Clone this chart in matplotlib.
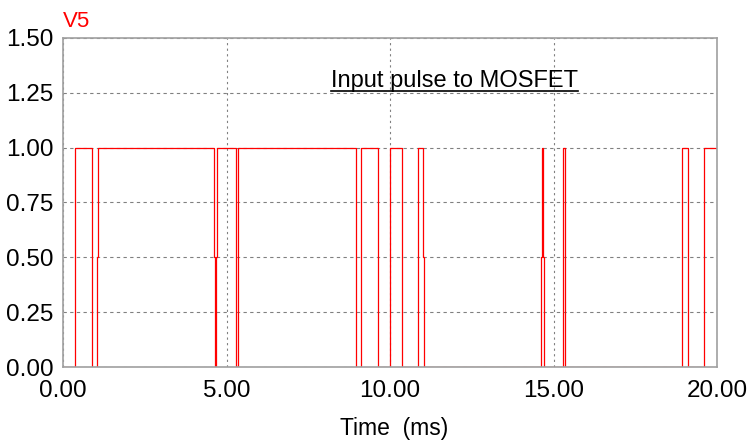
import matplotlib
matplotlib.use("Agg")
import matplotlib.pyplot as plt
from matplotlib.lines import Line2D

plt.rcParams['font.family'] = ['Liberation Sans', 'DejaVu Sans']

# switching instants (ms) and the level the pulse takes from each instant on
edge_times = [0.00, 0.37, 0.88, 0.90, 1.03, 1.06, 4.63, 4.66, 4.69, 4.72,
              5.30, 5.36, 8.96, 9.11, 9.62, 9.99, 10.36, 10.87, 11.02, 11.05,
              14.62, 14.66, 14.69, 14.71, 15.30, 15.34, 18.94, 19.10, 19.61]
levels = [0, 1, 0.5, 0, 0.5, 1, 0.5, 0, 0.5, 1,
          0, 1, 0, 1, 0, 1, 0, 1, 0.5, 0,
          0.5, 1, 0.5, 0, 1, 0, 1, 0, 1]
t_end = 20.0

x_ticks = [0, 5, 10, 15, 20]
y_ticks = [0, 0.25, 0.5, 0.75, 1.0, 1.25, 1.5]

fig = plt.figure(figsize=(7.5, 4.44), dpi=100)
ax = fig.add_axes([63/750, 1 - 367/444, (717 - 63)/750, (367 - 38)/444])

ax.step(edge_times + [t_end], levels + [levels[-1]], where='post',
        color='#ff0000', lw=0.9, zorder=2)

ax.set_xlim(0, 20)
ax.set_ylim(0, 1.5)
ax.set_xticks(x_ticks)
ax.set_yticks(y_ticks)
ax.set_xticklabels([f"{v:.2f}" for v in x_ticks])
ax.set_yticklabels([f"{v:.2f}" for v in y_ticks])
ax.tick_params(length=0, labelsize=17.5, colors='black')
ax.tick_params(axis='x', pad=9)
ax.tick_params(axis='y', pad=7)

ax.grid(axis='y', color='#808080', lw=0.8, linestyle=(0, (3, 3)))
ax.grid(axis='x', color='#808080', lw=0.8, linestyle=(0, (2, 3)))

for s in ax.spines.values():
    s.set_color('#a0a0a0')
    s.set_linewidth(1.2)

ax.set_xlabel('Time  (ms)', fontsize=16.5)
ax.xaxis.set_label_coords(0.506, -0.152)
ax.xaxis.label.set_va('top')

fig.text(63/750, 1 - 27/444, 'V5', color='#ff0000', fontsize=16,
         ha='left', va='baseline')

title = ax.text(11.96, 1.278, 'Input pulse to MOSFET', fontsize=17,
                ha='center', va='baseline')

# underline under the annotation
fig.canvas.draw()
bb = title.get_window_extent()
uy = bb.y0 + 1
fig.add_artist(Line2D([bb.x0 / 750, bb.x1 / 750], [uy / 444, uy / 444],
                      color='black', lw=1.2, transform=fig.transFigure))

fig.savefig('out.png', dpi=100)
